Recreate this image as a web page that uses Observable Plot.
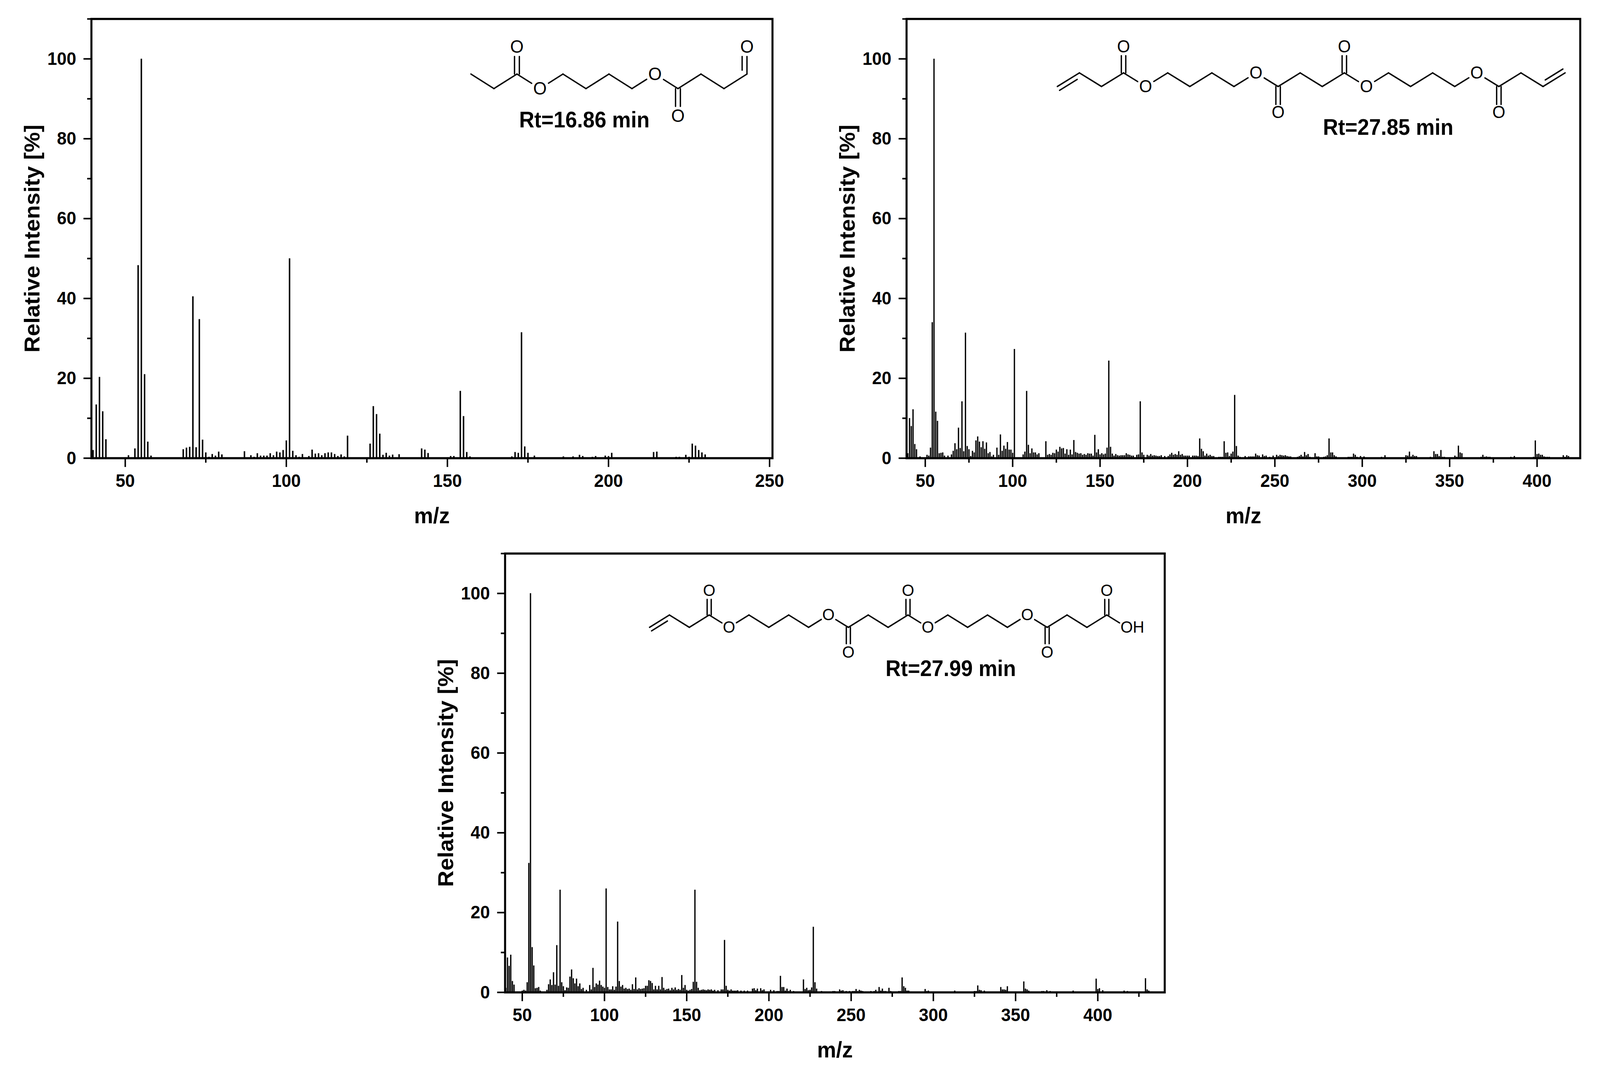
<!DOCTYPE html>
<html><head><meta charset="utf-8">
<script src="https://cdn.jsdelivr.net/npm/d3@7"></script>
<script src="https://cdn.jsdelivr.net/npm/@observablehq/plot@0.6"></script>
<style>
html,body{margin:0;padding:0;background:#fff;overflow:hidden}
#page{position:relative;width:4332px;height:2733px;overflow:hidden;background:#fff;transform-origin:0 0}
#page>div{position:absolute}
svg{max-width:none!important;display:block;overflow:visible}
</style></head><body><div id="page"></div>
<script>
// [m/z, relative intensity %]
const spectrumA=[[40,2],[41,13.4],[42,20.3],[43,11.7],[44,4.7],[51,.7],[53,2.4],[54,48.3],[55,100],[56,21],[57,4.1],[58,.6],
[68,2.2],[69,2.6],[70,2.8],[71,40.5],[72,2.7],[73,34.8],[74,4.6],[75,1.4],[76,.3],[77,1],[78,.6],[79,1.6],[80,.9],
[87,1.7],[89,.7],[90,.3],[91,1.2],[92,.6],[93,.6],[94,.6],[95,1.2],[96,.7],[97,1.6],[98,1.4],[99,2],[100,4.4],[101,50],[102,1.8],[103,.7],[104,.3],[105,1],
[107,.5],[108,2.1],[109,1.1],[110,1.2],[111,.7],[112,1.2],[113,1.4],[114,1.4],[115,1],[116,.5],[117,.9],[118,.4],[119,5.6],
[126,3.6],[127,13],[128,11],[129,6.1],[130,.8],[131,1.3],[132,.6],[133,.85],[135,.95],[142,2.4],[143,2.1],[144,1.25],[151,.5],[152,.5],[154,16.8],[155,10.5],[156,1.5],[157,.4],
[170,.4],[171,1.5],[172,1.3],[173,31.5],[174,2.9],[175,1.3],[177,.6],[186,.4],[189,.4],[191,.8],[192,.5],[195,.3],[196,.5],[199,.6],[200,.5],[201,1.3],
[214,1.5],[215,1.6],[221,.3],[222,.3],[224,.8],[225,.3],[226,3.6],[227,3.1],[228,2],[229,1.4],[230,.9]];

const spectrumB=[[40,1.2],[41,10],[42,8],[43,12.2],[44,3.5],[45,2.2],[47,.4],[51,.8],[52,.6],[53,2.6],[54,34],[55,100],[56,11.6],[57,9.3],[58,1.2],[59,1.3],[60,1.4],[61,.6],[63,.6],
[65,.9],[66,1.8],[67,3.7],[68,2.2],[69,7.6],[70,2.5],[71,14.2],[72,1.7],[73,31.4],[74,3],[75,2.2],[76,.5],[77,1.8],[78,1.4],[79,4.4],[80,5.4],[81,4.1],[82,2.7],[83,4.2],[84,2.3],[85,3.9],[86,1.2],[87,1.5],[88,.4],[89,.8],
[91,2.6],[92,.8],[93,5.9],[94,1.8],[95,3.1],[96,2.3],[97,4],[98,2.1],[99,2.1],[100,1.3],[101,27.3],[106,.9],[107,1.6],[108,16.8],[109,3.3],[110,1.2],[111,2.4],[112,1.4],[113,1.4],[114,.9],[115,1.2],
[119,4.2],[120,.8],[121,1],[122,.8],[123,1.3],[124,1.2],[125,2.1],[126,1.6],[127,2.8],[128,2.4],[129,2.5],[130,1.1],[131,2.2],[132,.8],[133,2.1],[134,.9],[135,4.5],[136,1.5],[137,1.3],[138,1.1],[139,1.2],[140,.8],[141,1],[142,.8],[143,1.2],[144,1.1],
[145,1.1],[146,.6],[147,5.8],[148,1.4],[149,2.2],[150,.9],[151,1.2],[152,.9],[153,1.1],[154,2.6],[155,24.4],[156,2.8],[157,1.1],[158,.6],[159,1],[160,.7],[161,.6],[162,.7],[163,.7],[164,.7],[165,1.2],[166,.9],[167,.8],[168,.6],[169,.6],
[171,.8],[172,.9],[173,14.2],[174,1.4],[175,.8],[177,.8],[178,.6],[179,1],[180,.6],[181,.7],[182,.6],[183,.5],[184,.5],[185,.7],[187,.5],[189,.5],[190,.9],[191,1.3],[192,.8],[193,1],[194,.8],[195,1.7],[196,.8],[197,1],[198,.6],[199,.6],[200,.6],[201,.6],[203,.6],[204,.6],[205,.6],[206,.5],
[207,4.9],[208,2.3],[209,1.7],[210,.6],[211,1.1],[212,.6],[213,.8],[214,.5],[215,.5],[218,.3],[219,.3],[220,.3],[221,4.2],[222,1.3],[223,1.4],[224,.5],[225,1.1],[226,1.6],[227,15.8],[228,3],[229,.6],[230,.3],
[233,.5],[235,.4],[236,.4],[237,.4],[238,.4],[239,1.1],[240,.7],[241,.6],[243,.9],[244,.5],[245,.6],[247,.3],[249,.6],[251,.8],[252,.5],[253,.8],[254,.7],[255,.6],[256,.7],[257,.5],[258,.4],[259,.4],
[263,.3],[264,.5],[265,.8],[266,.4],[267,1.5],[268,.7],[269,1],[270,.3],[273,1.2],[274,.4],[275,.4],[278,.3],[279,.4],[280,.7],[281,4.9],[282,1.4],[283,1.4],[284,.7],[285,.4],
[292,.3],[293,.3],[294,.3],[295,1.1],[296,.8],[297,.3],[299,.5],[301,.4],[311,.3],[313,.7],[325,.7],[326,.6],[327,1.6],[328,.4],[329,.8],[330,.5],[331,.5],
[339,.3],[341,1.7],[342,1],[343,1],[344,.5],[345,2],[346,.3],[347,.3],[353,.6],[354,.3],[355,3.1],[356,1.4],[357,1.2],[368,.3],[369,.8],[370,.3],[371,.4],[372,.3],[373,.3],[385,.3],[387,.5],
[398,.3],[399,4.4],[400,1],[401,1.1],[402,.8],[403,.8],[404,.4],[405,.3],[406,.3],[407,.3],[415,.7],[416,.3],[417,.7],[418,.5]];

const spectrumC=[[40,1.1],[41,8.7],[42,6.6],[43,9.4],[44,2.8],[45,1.9],[47,.2],[50,.4],[51,.6],[52,.4],[53,2.5],[54,32.4],[55,100],[56,11.3],[57,6.7],[58,1],[59,1.1],[60,1.3],[61,.4],
[65,.6],[66,2],[67,3.2],[68,1.8],[69,5],[70,1.9],[71,11.8],[72,1.6],[73,25.7],[74,2.5],[75,1.5],[76,.5],[77,1.2],[78,1.1],[79,3.9],[80,5.7],[81,3.5],[82,2.2],[83,3.4],[84,1.5],[85,2.2],[86,.8],[87,1.1],[88,.2],[89,.6],
[91,1.8],[92,.7],[93,6.1],[94,1.3],[95,2.2],[96,1.9],[97,2.9],[98,1.8],[99,1.4],[100,1.1],[101,26],[102,1.3],[103,.7],[104,.7],[105,1.5],[106,.6],[107,1.4],[108,17.7],[109,2.8],[110,1.4],[111,1.8],[112,.9],[113,1.1],[114,.8],[115,.9],[116,.6],[117,2],[118,.8],[119,3.7],[120,.7],
[121,1],[122,.8],[123,.9],[124,1],[125,1.6],[126,1.6],[127,3],[128,2.8],[129,2.3],[130,.7],[131,1.6],[132,.7],[133,1.6],[134,.7],[135,3.8],[136,1.1],[137,.6],[138,.8],[139,.9],[140,.5],[141,1.1],[142,.7],[143,1.2],[144,.6],[145,.8],[146,.6],[147,4.3],[148,1.1],[149,1.8],[150,.6],
[151,.4],[152,.6],[153,.8],[154,2.6],[155,25.7],[156,2.6],[157,1.1],[158,.5],[159,.6],[160,.7],[161,.6],[162,.5],[163,.7],[164,.6],[165,.7],[166,.4],[167,.6],[169,.5],[171,.7],[172,.7],[173,13.1],[174,1.6],[175,.6],[176,.4],[177,.7],[178,.4],[179,.4],[180,.4],[181,.5],[183,.4],[185,.4],[187,.4],[188,.2],
[190,.9],[191,1],[192,.5],[193,.9],[195,1],[196,.5],[197,.7],[199,.2],[201,.6],[203,.5],[205,.3],[206,.3],[207,4.1],[208,1.3],[209,1.3],[210,.4],[211,.9],[212,.3],[213,.6],[215,.3],[221,3.2],[222,.8],[223,1.1],[224,.5],[225,.6],[226,1.2],[227,16.4],[228,2.5],[229,.9],[232,.3],[233,.2],[234,.2],[235,.2],
[237,.2],[238,.2],[239,.3],[240,.3],[241,.2],[242,.2],[243,.7],[244,.4],[245,.5],[246,.2],[247,.3],[248,.2],[249,.3],[250,.2],[251,.3],[252,.3],[253,.8],[254,.3],[255,.6],[256,.4],[257,.3],[259,.2],[262,.3],[264,.3],[265,.6],[267,1.3],[268,.4],[269,.9],[270,.3],[271,.3],[272,.2],[273,1.1],[274,.3],
[277,.2],[278,.2],[279,.3],[280,.3],[281,3.7],[282,1.5],[283,1.1],[284,.4],[285,.4],[286,.2],[287,.1],[289,.1],[290,.1],[293,.1],[295,.8],[296,.3],[297,.4],[299,.2],[301,.1],[311,.1],[313,.4],[314,.1],[316,.1],[322,.1],[325,.3],[326,.3],[327,1.7],[328,.6],[329,.5],[330,.2],[331,.4],[332,.1],
[339,.1],[341,1.3],[342,.7],[343,.7],[344,.6],[345,1.5],[346,.2],[348,.1],[353,.2],[354,.2],[355,2.7],[356,.9],[357,.7],[358,.4],[366,.3],[367,.3],[368,.2],[369,.5],[370,.1],[371,.3],[372,.2],[373,.1],[374,.1],[381,.1],[383,.1],[385,.4],[388,.1],
[398,.1],[399,3.4],[400,.8],[401,1],[403,.5],[404,.1],[405,.1],[415,.1],[416,.4],[417,.1],[418,.3],[419,.1],[420,.1],[429,3.5],[430,.7],[431,.4],[432,.2],[433,.2],[434,.1]];

const yMajor=[0,20,40,60,80,100];
const yMinor=[10,30,50,70,90,110];
const xMajorA=[50,100,150,200,250], xMinorA=[75,125,175,225];
const xMajorB=[50,100,150,200,250,300,350,400], xMinorB=[75,125,175,225,275,325,375];
const xMinorC=[75,125,175,225,275,325,375,425];

// skeletal formulas: atom along the zigzag, carbonyl carbons, terminal double bonds
const chainA=["C","C","C","O","C","C","C","C","O","C","C","C","C"];
const carbonylA=[2,9,12];
const chainB=["C","C","C","C","O","C","C","C","C","O","C","C","C","C","O","C","C","C","C","O","C","C","C","C"];
const carbonylB=[3,10,13,20];
const chainC=["C","C","C","C","O","C","C","C","C","O","C","C","C","C","O","C","C","C","C","O","C","C","C","C","OH"];
const carbonylC=[3,10,13,20,23];

const FONT='"Liberation Sans",Arial,sans-serif';

function skeleton(m){
  const N=m.chain.map((a,i)=>({a,i,x:m.x0+i*m.step,y:(i%2===0)===m.startHigh?m.yHigh:m.yLow}));
  const L=[],T=[];
  const hetero=n=>n.a!=="C";
  for(let i=0;i<N.length-1;i++){
    const p=N[i],q=N[i+1];
    const f0=hetero(p)?.37:0,f1=hetero(q)?.64:1;
    L.push({x1:p.x+(q.x-p.x)*f0,y1:p.y+(q.y-p.y)*f0,x2:p.x+(q.x-p.x)*f1,y2:p.y+(q.y-p.y)*f1});
  }
  for(const c of m.carbonyl){
    const n=N[c],up=n.y===m.yHigh,tip=up?m.yTipUp:m.yTipDown,oy=up?m.yOUp:m.yODown;
    if(c===m.aldehyde){
      L.push({x1:n.x,y1:n.y,x2:n.x,y2:tip},{x1:n.x-2*m.gap,y1:n.y+(tip-n.y)*.22,x2:n.x-2*m.gap,y2:tip});
    }else{
      L.push({x1:n.x-m.gap,y1:n.y,x2:n.x-m.gap,y2:tip},{x1:n.x+m.gap,y1:n.y,x2:n.x+m.gap,y2:tip});
    }
    T.push({x:n.x,y:oy,t:"O"});
  }
  for(const v of m.vinyl||[]){
    const p=N[v.from],q=N[v.from+1];
    L.push({x1:p.x+(q.x-p.x)*.1,y1:p.y+(q.y-p.y)*.1+v.shift,x2:p.x+(q.x-p.x)*.9,y2:p.y+(q.y-p.y)*.9+v.shift});
  }
  for(const n of N) if(hetero(n)) T.push({x:n.x,y:n.y,t:n.a});
  return {L,T};
}

const panels=[
 {left:247,right:2091,top:48,bottom:1172,domain:[39.5,250.9],peaks:spectrumA,width:4,xMajor:xMajorA,xMinor:xMinorA,rt:"Rt=16.86 min",rtX:192.5,rtY:84.6,oSize:47,
  mol:{chain:chainA,carbonyl:carbonylA,aldehyde:12,x0:157.3,step:7.14,startHigh:true,yHigh:96.2,yLow:92.56,yOUp:103,yODown:85.7,yTipUp:100.6,yTipDown:88.1,gap:.75}},
 {left:2454,right:4278,top:48,bottom:1172,domain:[39.3,424.7],peaks:spectrumB,width:3.5,xMajor:xMajorB,xMinor:xMinorB,rt:"Rt=27.85 min",rtX:314.8,rtY:82.8,oSize:45,
  mol:{chain:chainB,carbonyl:carbonylB,x0:125.55,step:12.63,startHigh:false,yHigh:96.5,yLow:93.08,yOUp:103,yODown:86.6,yTipUp:100.8,yTipDown:88.6,gap:1.27,vinyl:[{from:0,shift:-1.3},{from:22,shift:1.3}]}},
 {left:1367,right:3153,top:1416,bottom:2539,domain:[39.55,440.7],peaks:spectrumC,width:3.5,xMajor:xMajorB,xMinor:xMinorC,rt:"Rt=27.99 min",rtX:310.6,rtY:81.1,oSize:43,
  mol:{chain:chainC,carbonyl:carbonylC,x0:127.4,step:12.09,startHigh:false,yHigh:94.6,yLow:91.5,yOUp:100.7,yODown:85.2,yTipUp:98.5,yTipDown:87.4,gap:1.24,vinyl:[{from:0,shift:-1.2}]}}
];

const page=document.getElementById("page");
// the browser window may be narrower than the reference: fit the full layout to its width
const fitX=Math.min(1,window.innerWidth/4332);
page.style.transform=`scale(${fitX},1)`;
const mL=240,mR=12,mT=12,mB=190;
for(const p of panels){
  const sk=skeleton(p.mol);
  const tickFont={fontSize:47,fontWeight:"bold",fontFamily:FONT};
  const svg=Plot.plot({
    width:p.right-p.left+mL+mR,height:p.bottom-p.top+mT+mB,
    marginLeft:mL,marginRight:mR,marginTop:mT,marginBottom:mB,
    style:{fontFamily:FONT,background:"#fff",color:"#000"},
    x:{domain:p.domain},y:{domain:[0,110]},
    marks:[
      Plot.ruleX(p.peaks,{x:d=>d[0],y1:0,y2:d=>d[1],stroke:"#000",strokeWidth:p.width}),
      Plot.axisX({ticks:p.xMajor,tickSize:23,tickPadding:17,strokeWidth:4,...tickFont,label:"m/z",labelAnchor:"center",labelArrow:"none",labelOffset:166,tickFormat:d=>String(d)}),
      Plot.axisX({ticks:p.xMinor,tickSize:12,strokeWidth:4,tickFormat:()=>"",label:null}),
      Plot.axisY({ticks:yMajor,tickSize:21,tickPadding:20,strokeWidth:4,...tickFont,label:"Relative Intensity [%]",labelAnchor:"center",labelArrow:"none",labelOffset:182,tickFormat:d=>String(d)}),
      Plot.axisY({ticks:yMinor,tickSize:11,strokeWidth:4,tickFormat:()=>"",label:null}),
      Plot.frame({stroke:"#000",strokeWidth:5.5}),
      Plot.link(sk.L,{x1:"x1",y1:"y1",x2:"x2",y2:"y2",stroke:"#000",strokeWidth:3.6,strokeLinecap:"round"}),
      Plot.text(sk.T.filter(d=>d.t==="O"),{x:"x",y:"y",text:"t",fontSize:p.oSize,fontFamily:FONT,fill:"#000",textAnchor:"middle",lineAnchor:"middle"}),
      Plot.text(sk.T.filter(d=>d.t!=="O"),{x:"x",y:"y",text:"t",fontSize:p.oSize,fontFamily:FONT,fill:"#000",textAnchor:"start",lineAnchor:"middle",dx:-p.oSize*.39}),
      Plot.text([p.rt],{x:()=>p.rtX,y:()=>p.rtY,text:d=>d,fontSize:57,fontWeight:"bold",fontFamily:FONT,fill:"#000",textAnchor:"middle",lineAnchor:"middle"})
    ]
  });
  svg.querySelectorAll("g[aria-label='x-axis label'],g[aria-label='y-axis label']").forEach(g=>{g.setAttribute("font-size",58);g.setAttribute("font-weight","bold");});
  const d=document.createElement("div");
  d.style.left=(p.left-mL)+"px";d.style.top=(p.top-mT)+"px";
  d.appendChild(svg);page.appendChild(d);
}
</script></body></html>
